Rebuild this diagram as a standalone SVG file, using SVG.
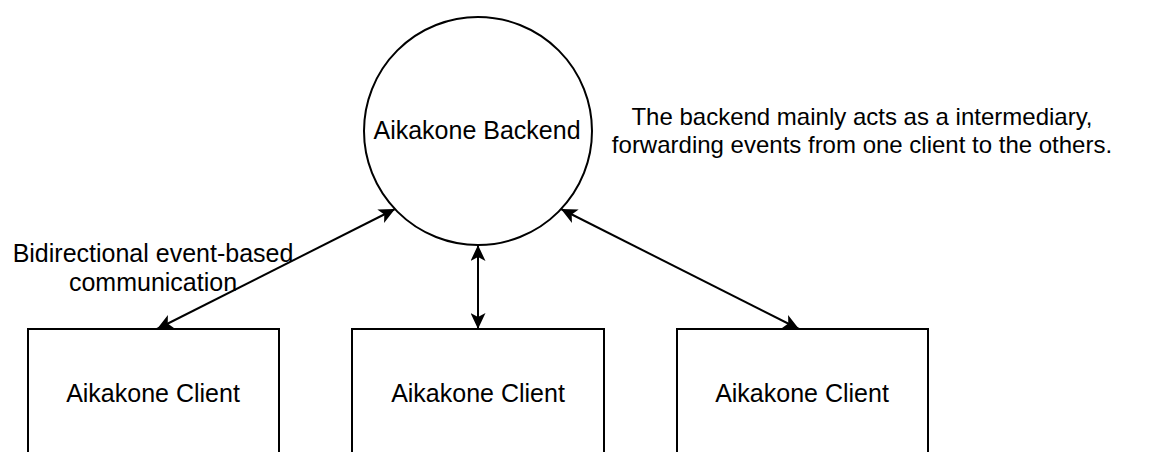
<svg xmlns="http://www.w3.org/2000/svg" width="1149" height="452" viewBox="0 0 1149 452">
  <style>
    .shape { fill: #ffffff; stroke: #000000; stroke-width: 2; }
    .edge { fill: none; stroke: #000000; stroke-width: 2; }
    .label { font-family: "Liberation Sans", Arial, sans-serif; font-size: 25px; fill: #000000; text-anchor: middle; }
    .note { font-size: 24px; }
  </style>
  <defs>
    <marker id="arrow" viewBox="0 0 16 15" refX="16" refY="7.5" markerWidth="16" markerHeight="15" markerUnits="userSpaceOnUse" orient="auto-start-reverse">
      <path d="M16,7.5 L0,0 L4,7.5 L0,15 Z" fill="#000000"/>
    </marker>
  </defs>
  <rect width="1149" height="452" fill="#ffffff"/>

  <g id="connectors">
    <line class="edge" x1="157" y1="329" x2="395" y2="209" marker-start="url(#arrow)" marker-end="url(#arrow)"/>
    <line class="edge" x1="478" y1="245" x2="478" y2="329" marker-start="url(#arrow)" marker-end="url(#arrow)"/>
    <line class="edge" x1="561" y1="209" x2="799" y2="329" marker-start="url(#arrow)" marker-end="url(#arrow)"/>
  </g>

  <g id="backend">
    <circle class="shape" cx="478" cy="131" r="114"/>
    <text class="label" x="477" y="139">Aikakone Backend</text>
  </g>

  <g id="client-left">
    <rect class="shape" x="28" y="329" width="251" height="128"/>
    <text class="label" x="153" y="402">Aikakone Client</text>
  </g>

  <g id="client-middle">
    <rect class="shape" x="352" y="329" width="252" height="128"/>
    <text class="label" x="478" y="402">Aikakone Client</text>
  </g>

  <g id="client-right">
    <rect class="shape" x="677" y="329" width="251" height="128"/>
    <text class="label" x="802" y="402">Aikakone Client</text>
  </g>

  <g id="note-communication">
    <text class="label" x="153" y="262">Bidirectional event-based</text>
    <text class="label" x="153" y="291">communication</text>
  </g>

  <g id="note-backend">
    <text class="label note" x="862" y="125">The backend mainly acts as a intermediary,</text>
    <text class="label note" x="862" y="153">forwarding events from one client to the others.</text>
  </g>
</svg>
